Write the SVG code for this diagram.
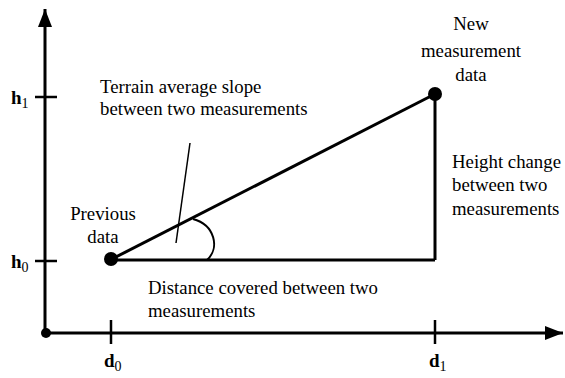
<svg xmlns="http://www.w3.org/2000/svg" width="565" height="378" viewBox="0 0 565 378">
<style>
text{font-family:'Liberation Serif','DejaVu Serif',serif;fill:#000}
.t{font-size:18.8px}
.lb{font-size:19px;font-weight:bold}
.sub{font-size:14px;font-weight:normal}
.ax{stroke:#000;stroke-width:3;fill:none}
.tk{stroke:#000;stroke-width:2.5}
.ln{stroke:#000;stroke-width:3;fill:none}
</style>
<defs>
<marker id="arr" markerUnits="userSpaceOnUse" markerWidth="20" markerHeight="16" refX="18" refY="7" orient="auto">
<path d="M0,0 L18,7 L0,14 z" fill="#000"/>
</marker>
</defs>
<rect width="565" height="378" fill="#fff"/>
<g id="connectors">
<line class="ax" x1="45" y1="333" x2="45" y2="9" marker-end="url(#arr)"/>
<line class="ax" x1="45" y1="333" x2="563" y2="333" marker-end="url(#arr)"/>
<line class="tk" x1="35" y1="97" x2="57" y2="97"/>
<line class="tk" x1="35" y1="261" x2="57" y2="261"/>
<line class="tk" x1="111" y1="320" x2="111" y2="344"/>
<line class="tk" x1="435" y1="320" x2="435" y2="344"/>
<line class="ln" x1="110" y1="260" x2="435" y2="94"/>
<line class="ln" x1="435" y1="94" x2="435" y2="260"/>
<line class="ln" x1="110" y1="260" x2="435" y2="260"/>
<path d="M193,219 C215,225 220,248 207,260" stroke="#000" stroke-width="2" fill="none"/>
<line x1="190" y1="143" x2="176" y2="243" stroke="#000" stroke-width="1.5"/>
</g>
<g id="origin"><circle cx="46" cy="333" r="5" fill="#000"/></g>
<g id="previous-point"><circle cx="111" cy="259" r="7" fill="#000"/></g>
<g id="new-point"><circle cx="435" cy="94" r="7" fill="#000"/></g>
<g id="axis-labels">
<text class="lb" x="11" y="104">h<tspan class="sub" dy="4">1</tspan></text>
<text class="lb" x="11" y="268">h<tspan class="sub" dy="4">0</tspan></text>
<text class="lb" x="104" y="367">d<tspan class="sub" dy="4">0</tspan></text>
<text class="lb" x="429" y="367">d<tspan class="sub" dy="4">1</tspan></text>
</g>
<g id="new-label">
<text class="t" text-anchor="middle" x="471" y="30">New</text>
<text class="t" text-anchor="middle" x="471" y="57">measurement</text>
<text class="t" text-anchor="middle" x="471" y="81">data</text>
</g>
<g id="slope-label">
<text class="t" x="100" y="93">Terrain average slope</text>
<text class="t" x="100" y="115">between two measurements</text>
</g>
<g id="previous-label">
<text class="t" text-anchor="middle" x="103" y="220">Previous</text>
<text class="t" text-anchor="middle" x="103" y="243">data</text>
</g>
<g id="height-label">
<text class="t" x="452" y="168">Height change</text>
<text class="t" x="452" y="191">between two</text>
<text class="t" x="452" y="215">measurements</text>
</g>
<g id="distance-label">
<text class="t" x="148" y="294">Distance covered between two</text>
<text class="t" x="148" y="317">measurements</text>
</g>
</svg>
